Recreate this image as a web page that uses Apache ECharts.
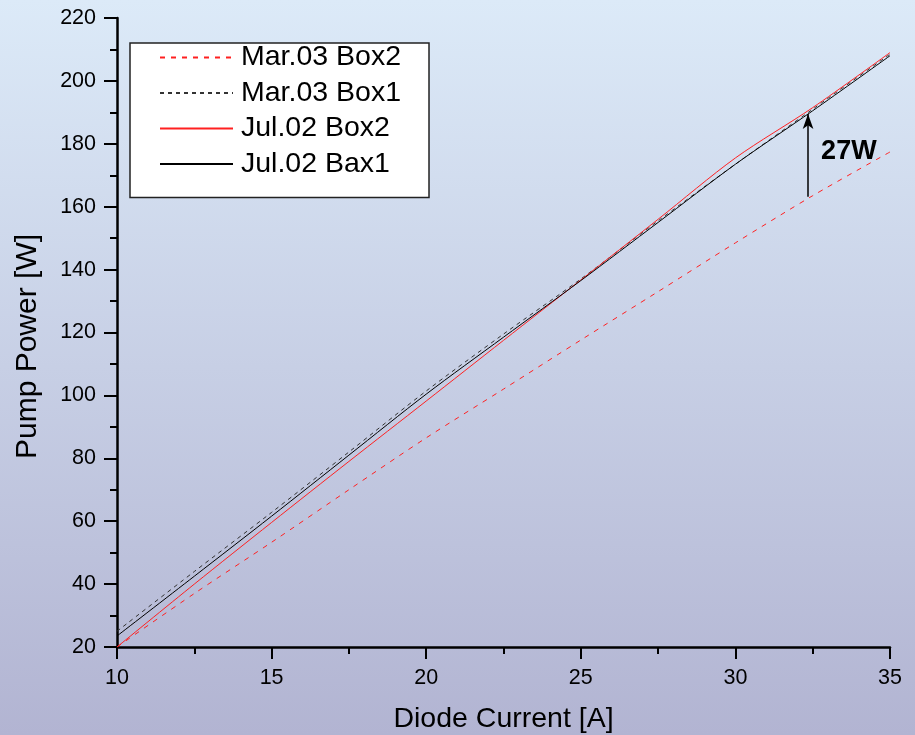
<!DOCTYPE html>
<html>
<head>
<meta charset="utf-8">
<script src="https://cdn.jsdelivr.net/npm/echarts@6/dist/echarts.min.js"></script>
<style>
  html, body { margin: 0; padding: 0; }
  #main { width: 915px; height: 735px; }
</style>
</head>
<body>
<div id="main"></div>
<script>
// diode current [A]
var current = [10, 12.5, 15, 17.5, 20, 22.5, 25, 27.5, 30, 32.5, 35];

// pump power [W]
var mar03Box2 = [20, 37, 53.3, 70, 86.5, 102, 117.6, 133, 148.5, 163.5, 177.4];
var mar03Box1 = [25, 44, 62.8, 82, 101.4, 119.5, 137, 155.5, 173.5, 191, 208.5];
var jul02Box2 = [20, 40, 59.6, 79, 98.2, 117.5, 136.7, 156, 175.5, 191.5, 209];
var jul02Bax1 = [23.5, 42.5, 61.6, 81, 100.4, 118.5, 136.5, 155, 173.5, 190.5, 208];

// arrow between the curves
var arrowX = 32.35;
var arrowFrom = 163.2;
var arrowTo = 189.5;
var arrowText = '27W';

var font = 'Liberation Sans, Arial, sans-serif';

function pairs(ys) {
    return current.map(function (x, i) { return [x, ys[i]]; });
}

var myChart = echarts.init(document.getElementById('main'));

var option = {
    backgroundColor: new echarts.graphic.LinearGradient(0, 0, 0, 1, [
        { offset: 0, color: '#dceaf8' },
        { offset: 1, color: '#b2b4d2' }
    ]),
    animation: false,
    grid: { left: 117, right: 25, top: 18, bottom: 88, outerBoundsMode: 'none', containLabel: false },
    legend: {
        orient: 'vertical',
        left: 130,
        top: 43,
        padding: [0, 28, 19, 29],
        itemGap: 6.5,
        itemWidth: 73,
        itemHeight: 14,
        backgroundColor: '#ffffff',
        borderColor: '#222',
        borderWidth: 1.5,
        borderRadius: 0,
        itemStyle: { opacity: 0 },
        textStyle: { fontFamily: font, fontSize: 28.5, lineHeight: 28, color: '#000', padding: [0, 0, 0, 3] },
        data: ['Mar.03 Box2', 'Mar.03 Box1', 'Jul.02 Box2', 'Jul.02 Bax1']
    },
    xAxis: {
        type: 'value',
        min: 10,
        max: 35,
        interval: 5,
        name: 'Diode Current [A]',
        nameLocation: 'middle',
        nameGap: 58,
        nameTextStyle: { fontFamily: font, fontSize: 28.5, color: '#000' },
        axisLine: { show: true, lineStyle: { color: '#000', width: 2.5 } },
        axisTick: { show: true, length: 12, lineStyle: { color: '#000', width: 2 } },
        minorTick: { show: true, splitNumber: 2, length: 7, lineStyle: { color: '#000', width: 2 } },
        axisLabel: { fontFamily: font, fontSize: 21.5, color: '#000', margin: 20 },
        splitLine: { show: false }
    },
    yAxis: {
        type: 'value',
        min: 20,
        max: 220,
        interval: 20,
        name: 'Pump Power [W]',
        nameLocation: 'middle',
        nameGap: 74,
        nameTextStyle: { fontFamily: font, fontSize: 30, color: '#000', padding: [0, 28, 0, 0] },
        axisLine: { show: true, lineStyle: { color: '#000', width: 2.5 } },
        axisTick: { show: true, length: 13, lineStyle: { color: '#000', width: 2 } },
        minorTick: { show: true, splitNumber: 2, length: 7, lineStyle: { color: '#000', width: 2 } },
        axisLabel: { fontFamily: font, fontSize: 21.5, color: '#000', margin: 21 },
        splitLine: { show: false }
    },
    series: [
        {
            name: 'Mar.03 Box2',
            type: 'line',
            symbol: 'none',
            smooth: 0.3,
            data: pairs(mar03Box2),
            lineStyle: { color: '#ff2020', width: 1, type: [5, 6] },
            itemStyle: { color: '#ff2020' },
            markLine: {
                silent: true,
                symbol: ['none', 'arrow'],
                symbolSize: [8, 15],
                lineStyle: { color: '#000', width: 1.5, type: 'solid' },
                label: { show: false },
                data: [[{ coord: [arrowX, arrowFrom] }, { coord: [arrowX, arrowTo] }]]
            },
            markPoint: {
                silent: true,
                symbol: 'circle',
                symbolSize: 0,
                label: {
                    show: true,
                    formatter: arrowText,
                    fontFamily: font,
                    fontSize: 27,
                    fontWeight: 'bold',
                    color: '#000'
                },
                data: [{ coord: [33.67, 177.4] }]
            }
        },
        {
            name: 'Mar.03 Box1',
            type: 'line',
            symbol: 'none',
            smooth: 0.3,
            data: pairs(mar03Box1),
            lineStyle: { color: '#333', width: 1, type: [4, 4] },
            itemStyle: { color: '#333' }
        },
        {
            name: 'Jul.02 Box2',
            type: 'line',
            symbol: 'none',
            smooth: 0.3,
            data: pairs(jul02Box2),
            lineStyle: { color: '#ff2020', width: 1 },
            itemStyle: { color: '#ff2020' }
        },
        {
            name: 'Jul.02 Bax1',
            type: 'line',
            symbol: 'none',
            smooth: 0.3,
            data: pairs(jul02Bax1),
            lineStyle: { color: '#000', width: 1 },
            itemStyle: { color: '#000' }
        }
    ]
};

myChart.setOption(option);
</script>
</body>
</html>
